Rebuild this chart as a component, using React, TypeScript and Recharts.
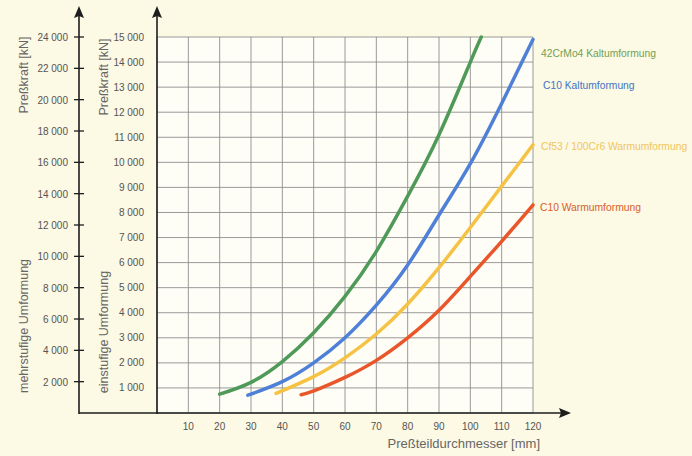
import React from 'react';
import { LineChart, Line, XAxis, YAxis, CartesianGrid, ReferenceLine, Label } from 'recharts';

// x-axis ticks (mm) and the two force scales (kN)
const diameterTicks = [10, 20, 30, 40, 50, 60, 70, 80, 90, 100, 110, 120];
const singleStageTicks = [1000, 2000, 3000, 4000, 5000, 6000, 7000, 8000, 9000, 10000, 11000, 12000, 13000, 14000, 15000];
const multiStageTicks = [2000, 4000, 6000, 8000, 10000, 12000, 14000, 16000, 18000, 20000, 22000, 24000];

// 42CrMo4 Kaltumformung
const crMoDiameter = [20, 30, 40, 50, 60, 70, 80, 90, 100, 103.5];
const crMoForce = [750, 1220, 2050, 3200, 4650, 6450, 8650, 11100, 14000, 15000];

// C10 Kaltumformung
const c10ColdDiameter = [29, 40, 50, 60, 70, 80, 90, 100, 110, 120];
const c10ColdForce = [710, 1250, 2000, 3000, 4300, 5900, 7900, 9950, 12350, 14900];

// Cf53 / 100Cr6 Warmumformung
const cfDiameter = [38, 50, 60, 70, 80, 90, 100, 110, 120];
const cfForce = [780, 1450, 2200, 3150, 4350, 5800, 7400, 9050, 10700];

// C10 Warmumformung
const c10WarmDiameter = [46, 50, 60, 70, 80, 90, 100, 110, 120];
const c10WarmForce = [730, 880, 1420, 2100, 3000, 4100, 5450, 6850, 8300];

const toPoints = (xs: number[], ys: number[]) => xs.map((x, i) => ({ x, y: ys[i] }));

const series = [
  { name: '42CrMo4 Kaltumformung', color: '#4f9a58', text: '#72a055', top: 47, left: 541, data: toPoints(crMoDiameter, crMoForce) },
  { name: 'C10 Kaltumformung', color: '#4f80d8', text: '#4373c4', top: 79, left: 543, data: toPoints(c10ColdDiameter, c10ColdForce) },
  { name: 'Cf53 / 100Cr6 Warmumformung', color: '#f5c343', text: '#f0c65c', top: 140, left: 541, data: toPoints(cfDiameter, cfForce) },
  { name: 'C10 Warmumformung', color: '#e8562a', text: '#d9602a', top: 201, left: 540, data: toPoints(c10WarmDiameter, c10WarmForce) },
];

const FONT = "'Liberation Sans', Arial, sans-serif";
const INNER_W = 78;
const OUTER_W = 71;
const AXIS = '#1e1e1e';
const fmt = (v: number) => `${Math.floor(v / 1000)} 000`;

// both vertical axes with their arrows, drawn from the x=0 reference line
const VerticalAxes = (props: any) => {
  const { x1, y1, y2 } = props;
  const top = Math.min(y1, y2);
  const bottom = Math.max(y1, y2);
  const tip = top - 31;
  return (
    <g>
      {[x1, x1 - INNER_W].map((x: number) => (
        <g key={x}>
          <line x1={x} x2={x} y1={bottom + 1} y2={tip + 8} stroke={AXIS} strokeWidth={1.6} />
          <path d={`M${x} ${tip} L${x + 5} ${tip + 12} L${x} ${tip + 10} L${x - 5} ${tip + 12} Z`} fill={AXIS} />
        </g>
      ))}
    </g>
  );
};

const HorizontalAxis = (props: any) => {
  const { x1, x2, y1 } = props;
  const left = Math.min(x1, x2) - INNER_W;
  const right = Math.max(x1, x2);
  const tip = right + 38;
  return (
    <g>
      <line x1={left} x2={tip - 8} y1={y1} y2={y1} stroke={AXIS} strokeWidth={1.6} />
      <path d={`M${tip} ${y1} L${tip - 12} ${y1 - 5} L${tip - 10} ${y1} L${tip - 12} ${y1 + 5} Z`} fill={AXIS} />
    </g>
  );
};

const OuterTick = (props: any) => {
  const { x, y, payload } = props;
  const ax = x + 11;
  return (
    <g>
      <line x1={ax - 5} x2={ax + 5} y1={y} y2={y} stroke={AXIS} strokeWidth={1.3} />
      <text x={x} y={y} dy={4} textAnchor="end" fontSize={10} fill="#555" fontFamily={FONT}>
        {fmt(payload.value)}
      </text>
    </g>
  );
};

const sideTitle = (text: string, dx: number, cy: number) => (props: any) => {
  const vb = props.viewBox || {};
  const x = vb.x + dx;
  const y = vb.y + cy;
  return (
    <text x={x} y={y} transform={`rotate(-90 ${x} ${y})`} textAnchor="middle" dominantBaseline="central"
      fontSize={12.5} fill="#666" fontFamily={FONT}>
      {text}
    </text>
  );
};

const xTitle = (props: any) => {
  const vb = props.viewBox || {};
  return (
    <text x={vb.x + vb.width + 7} y={vb.y + 35} textAnchor="end" fontSize={13} fill="#666" fontFamily={FONT}>
      Preßteildurchmesser [mm]
    </text>
  );
};

export default function App() {
  return (
    <div style={{ position: 'absolute', left: 0, top: 0, width: 692, height: 456, background: '#fcf9e4', fontFamily: FONT }}>
      <LineChart width={692} height={456} margin={{ top: 37, right: 159, bottom: 13, left: 8 }}>
        <CartesianGrid yAxisId="inner" stroke="#8e8e8e" strokeWidth={0.9} fill="#fefdf6" />
        <XAxis dataKey="x" type="number" domain={[0, 120]} ticks={diameterTicks} height={30}
          axisLine={false} tickLine={false} tickSize={0} tickMargin={10} interval={0}
          tick={{ fontSize: 10, fill: '#555', fontFamily: FONT }}>
          <Label content={xTitle} />
        </XAxis>
        <YAxis yAxisId="inner" type="number" domain={[0, 15000]} ticks={singleStageTicks} width={INNER_W}
          axisLine={false} tickLine={false} tickSize={0} tickMargin={13} interval={0}
          tickFormatter={fmt} tick={{ fontSize: 10, fill: '#555', fontFamily: FONT }}>
          <Label content={sideTitle('Preßkraft [kN]', 25, 40)} />
          <Label content={sideTitle('einstufige Umformung', 25, 295)} />
        </YAxis>
        <YAxis yAxisId="outer" type="number" domain={[0, 24000]} allowDataOverflow ticks={multiStageTicks} width={OUTER_W}
          axisLine={false} tickLine={false} tickSize={0} tickMargin={11} interval={0}
          tick={OuterTick}>
          <Label content={sideTitle('Preßkraft [kN]', 16, 38)} />
          <Label content={sideTitle('mehrstufige Umformung', 16, 289)} />
        </YAxis>
        <ReferenceLine yAxisId="inner" x={0} ifOverflow="visible" shape={VerticalAxes} />
        <ReferenceLine yAxisId="inner" y={0} ifOverflow="visible" shape={HorizontalAxis} />
        {series.map((s) => (
          <Line key={s.name} yAxisId="inner" data={s.data} dataKey="y" name={s.name} type="natural"
            stroke={s.color} strokeWidth={3.5} strokeLinecap="round" dot={false} activeDot={false} isAnimationActive={false} />
        ))}
      </LineChart>
      {series.map((s) => (
        <div key={s.name} style={{ position: 'absolute', left: s.left, top: s.top, fontSize: 10.3, color: s.text, whiteSpace: 'nowrap', lineHeight: '13px' }}>
          {s.name}
        </div>
      ))}
    </div>
  );
}
